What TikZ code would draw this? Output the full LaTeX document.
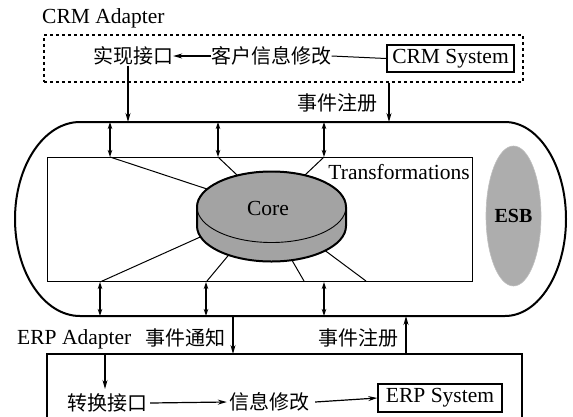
\documentclass[tikz,border=0pt]{standalone}
\usepackage{fontspec}
\setmainfont{Liberation Serif}
\newfontfamily\cjk{Noto Sans CJK SC}
\usetikzlibrary{arrows.meta,shapes.geometric,calc}
\colorlet{dotgray}{black!36}
\colorlet{esbgray}{black!32}
\begin{document}
\begin{tikzpicture}[x=1pt,y=-1pt,
  lat/.style={font=\fontsize{21.5}{22}\selectfont, inner sep=0pt},
  cj/.style={font=\cjk\fontsize{20}{20}\selectfont, inner sep=0pt},
  arr/.style={-{Stealth[length=9pt,width=5pt]}, line width=1.2pt},
  darr/.style={{Stealth[length=7pt,width=4.5pt]}-{Stealth[length=7pt,width=4.5pt]}, line width=1.2pt},
  ln/.style={line width=1pt},
  sysbox/.style={draw, line width=1.8pt, inner sep=0pt, font=\fontsize{21.5}{22}\selectfont}
]
\useasboundingbox (0,0) rectangle (573,416);

% ---------- CRM adapter ----------
\node[lat, anchor=west] (crmlbl) at (42,18) {CRM Adapter};
\node[draw, dash pattern=on 3pt off 3pt, line width=1.5pt, inner sep=0pt,
      minimum width=479pt, minimum height=47pt, anchor=north west] (crmbox) at (43,34) {};
\node[cj] (impl) at (133,56) {实现接口};
\node[cj] (khxx) at (271.5,56) {客户信息修改};
\node[sysbox, minimum width=127pt, minimum height=27pt] (crmsys) at (450.5,58.5) {CRM System};
\draw[ln] (crmsys.west) -- (khxx.east);
\draw[arr] (khxx.west) -- (impl.east);
\node[cj] (reg1) at (337.5,103) {事件注册};

% ---------- ESB stadium ----------
\draw[line width=2pt] (80,122) -- (505,122)
  arc[start angle=90, end angle=-90, x radius=61pt, y radius=97pt]
  -- (80,316)
  arc[start angle=270, end angle=90, x radius=65pt, y radius=97pt] -- cycle;
\coordinate (t1) at (110,122);
\coordinate (t2) at (218,122);
\coordinate (t3) at (324,122);
\coordinate (timpl) at (128,122);
\coordinate (treg) at (389,122);
\coordinate (b1) at (100,316);
\coordinate (b2) at (206,316);
\coordinate (b3) at (324,316);
\coordinate (bnot) at (233,316);
\coordinate (breg) at (406,316);

\draw[arr] ([xshift=-5pt]impl.south) -- (timpl);
\draw[arr] (crmbox.south -| treg) -- (treg);

% ---------- Transformations ----------
\node[draw, line width=1pt, inner sep=0pt, minimum width=425pt, minimum height=124pt,
      anchor=north west] (trans) at (47,157) {};
\node[lat, anchor=east] (translbl) at (470,172) {Transformations};

\draw[darr] (t1) -- (trans.north -| t1);
\draw[darr] (t2) -- (trans.north -| t2);
\draw[darr] (t3) -- (trans.north -| t3);
\draw[darr] (trans.south -| b1) -- (b1);
\draw[darr] (trans.south -| b2) -- (b2);
\draw[darr] (trans.south -| b3) -- (b3);

% spokes to the core
\draw[ln] (trans.north -| t1) -- ($(trans.north -| t1)!1.15!(207,189)$);
\draw[ln] (trans.north -| t2) -- ($(trans.north -| t2)!1.3!(237,175)$);
\draw[ln] (trans.north -| t3) -- ($(trans.north -| t3)!1.3!(305,175)$);
\draw[ln] (trans.south -| b1) -- ($(trans.south -| b1)!1.1!(198,238)$);
\draw[ln] (207,281) -- ($(207,281)!1.3!(227,257)$);
\draw[ln] (304,281) -- ($(304,281)!1.3!(293,262)$);
\draw[ln] (366,281) -- ($(366,281)!1.2!(327,252)$);

% core cylinder
\fill[dotgray] (197,207) -- (197,226)
  arc[start angle=180, end angle=360, x radius=74.5pt, y radius=35.5pt] -- (346,207) -- cycle;
\draw[line width=0.9pt, fill=dotgray] (271.5,207) ellipse[x radius=74.5pt, y radius=35.5pt];
\draw[line width=2pt] (197,226) -- (197,207)
  arc[start angle=180, end angle=0, x radius=74.5pt, y radius=35.5pt] -- (346,226)
  arc[start angle=0, end angle=-180, x radius=74.5pt, y radius=35.5pt];
\node[lat] (core) at (268,208) {Core};

% ESB
\node[ellipse, fill=esbgray, draw=black!25, line width=0.6pt, minimum width=55pt, minimum height=140pt,
      inner sep=0pt, font=\bfseries\fontsize{20}{20}\selectfont] (esb) at (513.5,216) {ESB};

% ---------- ERP adapter ----------
\node[lat, anchor=west] (erplbl) at (17,339) {ERP Adapter};
\node[cj] (notify) at (185,338) {事件通知};
\node[cj] (reg2) at (358,338) {事件注册};
\coordinate (erpbl) at (47,420);
\coordinate (erptl) at (47,354);
\coordinate (erptr) at (522,354);
\coordinate (erpbr) at (522,420);
\draw[line width=1.5pt] (erpbl) -- (erptl) -- (erptr) -- (erpbr);

\draw[arr] (bnot) -- (erptl -| bnot);
\draw[arr] (erptl -| breg) -- (breg);

\node[cj] (conv) at (107,403) {转换接口};
\node[cj] (xxxg) at (269,402) {信息修改};
\node[sysbox, line width=1.5pt, minimum width=124pt, minimum height=28pt] (erpsys) at (440,398) {ERP System};
\coordinate (convtop) at (105,389);
\draw[arr] (erptl -| convtop) -- (convtop);
\draw[arr] ([xshift=3pt]conv.east) -- ([xshift=-2pt]xxxg.west);
\draw[arr] ([xshift=6pt]xxxg.east) -- (erpsys.west);
\end{tikzpicture}
\end{document}
